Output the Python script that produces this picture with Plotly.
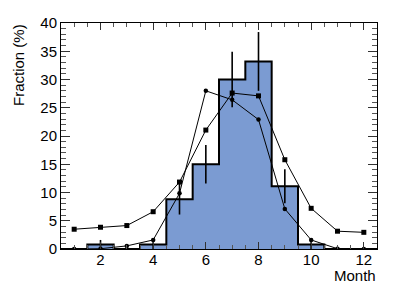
import plotly.graph_objects as go

months = [1, 2, 3, 4, 5, 6, 7, 8, 9, 10, 11, 12]
hist_vals = [0, 0.8, 0, 0.8, 8.8, 15.0, 30.0, 33.2, 11.1, 0.8, 0, 0]
hist_errs = [0, 0.8, 0, 0.8, 2.7, 3.4, 4.9, 5.2, 3.0, 0.8, 0, 0]
square_vals = [3.5, 3.85, 4.15, 6.6, 11.85, 21.05, 27.6, 27.1, 15.8, 7.2, 3.15, 2.95]
circle_vals = [0, 0.05, 0.55, 1.6, 9.85, 28.0, 26.4, 22.9, 7.1, 1.6, 0.05, 0]

x_title = "Month"
y_title = "Fraction (%)"

fill_color = "#7b9bd2"
font_family = "Liberation Sans, Arial, Helvetica, sans-serif"

# histogram step outline built from bin edges
edges = [m - 0.5 for m in months] + [months[-1] + 0.5]
step_y = hist_vals + [hist_vals[-1]]

fig = go.Figure()
fig.add_trace(go.Bar(x=months, y=hist_vals, width=1.0,
                     marker=dict(color=fill_color, line=dict(width=0)),
                     showlegend=False))
fig.add_trace(go.Scatter(x=edges, y=step_y, mode="lines", line_shape="hv",
                         line=dict(color="black", width=2), showlegend=False))
err_x = [m for m, v in zip(months, hist_vals) if v > 0]
err_y = [v for v in hist_vals if v > 0]
err_e = [e for e, v in zip(hist_errs, hist_vals) if v > 0]
fig.add_trace(go.Scatter(x=err_x, y=err_y, mode="markers",
                         marker=dict(size=1, color="rgba(0,0,0,0)"),
                         error_y=dict(type="data", array=err_e, visible=True,
                                      width=0, thickness=1.6, color="black"),
                         showlegend=False))
fig.add_trace(go.Scatter(x=months, y=square_vals, mode="lines+markers",
                         line=dict(color="black", width=1),
                         marker=dict(symbol="square", size=5, color="black"),
                         showlegend=False))
fig.add_trace(go.Scatter(x=months, y=circle_vals, mode="lines+markers",
                         line=dict(color="black", width=1),
                         marker=dict(symbol="circle", size=4.5, color="black"),
                         showlegend=False))

axis_common = dict(showline=True, linecolor="black", linewidth=1, mirror="ticks",
                   ticks="inside", tickcolor="#333", showgrid=False, zeroline=False,
                   automargin=False,
                   tickfont=dict(family=font_family, size=15, color="black"))

fig.update_xaxes(range=[0.5, 12.5], tick0=0, dtick=2, ticklen=7, tickwidth=1,
                 ticklabelstandoff=-3,
                 minor=dict(dtick=0.5, tick0=0, ticklen=4, ticks="inside",
                            tickcolor="#555", showgrid=False),
                 **axis_common)
fig.update_yaxes(range=[0, 40], tick0=0, dtick=5, ticklen=9, tickwidth=1,
                 minor=dict(dtick=1, tick0=0, ticklen=5, ticks="inside",
                            tickcolor="#555", showgrid=False),
                 **axis_common)

fig.update_layout(
    width=394, height=284,
    margin=dict(l=61, r=17, t=23, b=35, autoexpand=False),
    paper_bgcolor="white", plot_bgcolor="white",
    bargap=0,
    font=dict(family=font_family, size=15, color="black"),
    annotations=[
        dict(text=x_title, xref="paper", yref="paper", x=1, y=0,
             xanchor="right", yanchor="top", yshift=-17, borderpad=0,
             showarrow=False,
             font=dict(family=font_family, size=15, color="black")),
        dict(text=y_title, xref="paper", yref="paper", x=0, y=1,
             xanchor="center", yanchor="top", xshift=-43, textangle=-90,
             borderpad=0, showarrow=False,
             font=dict(family=font_family, size=15, color="black")),
    ],
)

fig.write_html("out.html", config={"displayModeBar": False},
               post_script="document.body.style.margin='0';document.body.style.overflow='hidden';")
